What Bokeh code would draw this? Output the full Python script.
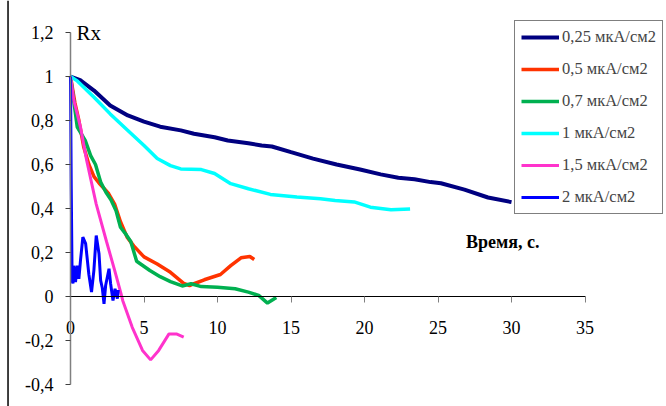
from bokeh.plotting import figure
from bokeh.models import Label, Span, FixedTicker, CustomJSTickFormatter, Legend, LegendItem
from bokeh.embed import file_html
from bokeh.resources import INLINE

# ---- data ----
x_025 = [0, 0.7, 1.6, 2.7, 3.9, 5.0, 6.1, 7.5, 8.4, 9.8, 10.7, 12.1, 13.0, 13.7, 15.0, 16.5, 18.1, 19.7, 21.1, 22.3, 23.4, 24.5, 25.2, 26.8, 28.4, 30.0]
y_025 = [1.0, 0.982, 0.936, 0.868, 0.823, 0.795, 0.772, 0.755, 0.74, 0.724, 0.709, 0.697, 0.686, 0.682, 0.656, 0.627, 0.6, 0.577, 0.555, 0.54, 0.533, 0.52, 0.515, 0.486, 0.45, 0.429]

x_05 = [0, 0.3, 0.57, 0.9, 1.25, 1.6, 1.95, 2.3, 2.6, 3.0, 3.4, 3.85, 4.3, 5.0, 5.9, 6.8, 7.7, 8.1, 8.4, 9.1, 10.2, 10.9, 11.6, 12.2, 12.5]
y_05 = [1.0, 0.88, 0.8, 0.68, 0.6, 0.545, 0.515, 0.49, 0.467, 0.42, 0.34, 0.27, 0.23, 0.18, 0.148, 0.11, 0.06, 0.05, 0.058, 0.076, 0.1, 0.14, 0.176, 0.182, 0.168]

x_07 = [0, 0.46, 1.0, 1.37, 1.7, 2.05, 2.4, 2.75, 3.1, 3.4, 3.8, 4.1, 4.5, 5.4, 6.1, 6.8, 7.6, 8.2, 8.9, 10.0, 11.2, 12.1, 12.8, 13.4, 14.0]
y_07 = [1.0, 0.77, 0.71, 0.64, 0.6, 0.52, 0.475, 0.44, 0.39, 0.315, 0.28, 0.25, 0.16, 0.118, 0.09, 0.068, 0.048, 0.058, 0.045, 0.042, 0.035, 0.02, 0.005, -0.03, -0.005]

x_1 = [0, 0.46, 1.6, 2.7, 3.9, 5.0, 5.9, 6.8, 7.5, 8.9, 9.8, 10.9, 12.1, 13.6, 15.4, 17.0, 18.0, 19.3, 20.4, 21.8, 23.1]
y_1 = [1.0, 0.98, 0.906, 0.83, 0.755, 0.686, 0.627, 0.595, 0.58, 0.577, 0.559, 0.513, 0.49, 0.464, 0.452, 0.444, 0.436, 0.43, 0.406, 0.394, 0.398]

x_15 = [0, 0.23, 0.68, 1.1, 1.75, 2.45, 3.0, 3.45, 3.55, 4.2, 4.9, 5.45, 6.0, 6.7, 7.2, 7.7]
y_15 = [1.0, 0.89, 0.77, 0.618, 0.42, 0.25, 0.12, 0.01, -0.018, -0.14, -0.245, -0.288, -0.245, -0.17, -0.17, -0.185]

x_2 = [0, 0.05, 0.11, 0.17, 0.23, 0.34, 0.46, 0.57, 0.68, 0.84, 1.03, 1.25, 1.43, 1.59, 1.75, 1.94, 2.05, 2.16, 2.28, 2.39, 2.62, 2.73, 2.89, 3.03, 3.19, 3.25]
y_2 = [1.0, 0.5, 0.07, 0.06, 0.14, 0.065, 0.14, 0.08, 0.164, 0.27, 0.24, 0.1, 0.02, 0.118, 0.277, 0.194, 0.073, 0.04, -0.033, 0.05, 0.126, 0.058, -0.018, 0.035, -0.01, 0.03]

labels = ["0,25 мкА/см2", "0,5 мкА/см2", "0,7 мкА/см2", "1 мкА/см2", "1,5 мкА/см2", "2 мкА/см2"]
colors = ["#000080", "#FF3300", "#00B050", "#00FFFF", "#FF33CC", "#0000FF"]
widths = [4, 3.5, 3.5, 3.5, 3, 3]
x_ticks = [0, 5, 10, 15, 20, 25, 30, 35]
y_ticks = [-0.4, -0.2, 0, 0.2, 0.4, 0.6, 0.8, 1.0, 1.2]

series = [(x_025, y_025), (x_05, y_05), (x_07, y_07), (x_1, y_1), (x_15, y_15), (x_2, y_2)]

FONT = "Liberation Serif"

p = figure(width=666, height=406, x_range=(-4.762, 40.544), y_range=(-0.5, 1.3455),
           output_backend="svg", toolbar_location=None, min_border=0)
p.outline_line_color = None
p.grid.visible = False

items = []
for (xs, ys), lab, c, w in zip(series, labels, colors, widths):
    r = p.line(xs, ys, line_color=c, line_width=w)
    items.append(LegendItem(label=lab, renderers=[r]))

# axes
fmt = CustomJSTickFormatter(code="var s = (Math.round(tick*10)/10).toString(); return s.replace('.', ',');")
xa = p.xaxis[0]
xa.fixed_location = 0
xa.bounds = (0, 35)
xa.ticker = FixedTicker(ticks=x_ticks)
xa.axis_line_color = "black"
xa.axis_line_width = 1.2
xa.major_tick_line_color = "#808080"
xa.major_tick_in = 0
xa.major_tick_out = 6
xa.minor_tick_line_color = None
xa.major_label_standoff = 18
xa.major_label_text_font = FONT
xa.major_label_text_font_size = "18px"
xa.major_label_text_color = "black"

ya = p.yaxis[0]
ya.fixed_location = 0
ya.bounds = (-0.4, 1.2)
ya.ticker = FixedTicker(ticks=y_ticks)
ya.formatter = fmt
ya.axis_line_color = "#808080"
ya.axis_line_width = 1.5
ya.major_tick_line_color = "#404040"
ya.major_tick_in = 0
ya.major_tick_out = 5
ya.minor_tick_line_color = None
ya.major_label_standoff = 12
ya.major_label_text_font = FONT
ya.major_label_text_font_size = "18px"
ya.major_label_text_color = "black"

# chart-area left border
p.add_layout(Span(location=-4.25, dimension="height", line_color="black", line_width=1.5))

# titles
p.add_layout(Label(x=0.4, y=1.2, text="Rx", text_font=FONT, text_font_size="21px",
                   text_baseline="middle", text_color="black"))
p.add_layout(Label(x=29.4, y=0.25, text="Время, с.", text_font=FONT, text_font_size="18px",
                   text_font_style="bold", text_align="center", text_baseline="middle",
                   text_color="black"))

legend = Legend(items=items, location=(514, 192))
legend.label_text_font = FONT
legend.label_text_font_size = "16.5px"
legend.label_standoff = 3
legend.glyph_width = 38
legend.glyph_height = 20
legend.label_height = 20
legend.spacing = 12
legend.padding = 6
legend.margin = 0
legend.border_line_color = "black"
legend.border_line_width = 1
legend.background_fill_color = "white"
legend.background_fill_alpha = 1
p.add_layout(legend)

open("out.html", "w").write(file_html(p, INLINE))
